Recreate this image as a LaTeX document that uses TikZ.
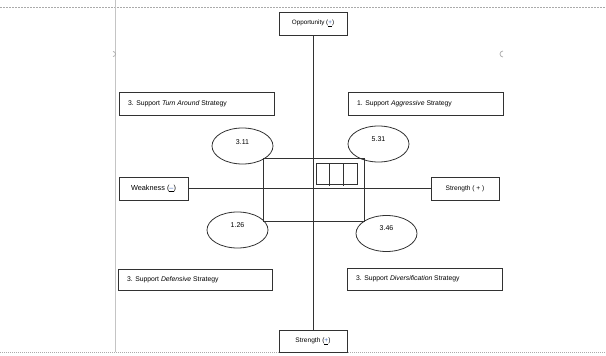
\documentclass[tikz,border=0pt]{standalone}
\usepackage{fontspec}
\setmainfont{Liberation Sans}
\usetikzlibrary{shapes.geometric}
\definecolor{ln}{RGB}{50,50,50}
\definecolor{pg}{RGB}{170,170,170}
\definecolor{sg}{RGB}{70,110,190}
\newcommand{\sgn}[1]{\underline{\textcolor{sg}{#1}}}
\begin{document}
\begin{tikzpicture}[x=1pt,y=-1pt,
  box/.style={draw=ln,line width=0.8pt,rectangle,inner sep=0pt},
  lbl/.style={font=\fontsize{6.8}{8}\selectfont,anchor=west},
  oval/.style={draw=ln,line width=0.8pt,ellipse,inner sep=0pt,minimum width=61pt,minimum height=36pt},
  ovtxt/.style={font=\fontsize{7}{8}\selectfont},
  conn/.style={draw=ln,line width=0.8pt}]
\useasboundingbox (0,0) rectangle (606,356);
% page decorations
\draw[pg,line width=0.6pt,dash pattern=on 2pt off 1pt] (0,7) -- (606,7);
\draw[pg,line width=1.4pt,dash pattern=on 1pt off 1pt] (0,352.5) -- (606,352.5);
\draw[pg!70,line width=0.6pt] (115,0) -- (115,352);
\draw[pg,line width=0.7pt] (113,56.5) arc (90:-90:2.5);
\draw[pg,line width=0.7pt] (503,57) arc (90:270:3);
% axis end boxes
\node[box,minimum width=68pt,minimum height=23pt,font=\fontsize{6.3}{7}\selectfont] (opp) at (313,23.5) {Opportunity (\sgn{+})};
\node[box,minimum width=68pt,minimum height=22pt,font=\fontsize{6.6}{7}\selectfont] (sbot) at (313,341) {Strength (\sgn{+})};
\node[box,minimum width=69pt,minimum height=23pt,font=\fontsize{7.3}{8}\selectfont] (weak) at (153.5,188.5) {Weakness (\sgn{--})};
\node[box,minimum width=68pt,minimum height=23pt,font=\fontsize{6.6}{8}\selectfont] (sright) at (465,188.5) {Strength ( + )};
% axes
\draw[conn] (opp.south) -- (sbot.north);
\draw[conn] (weak.east) -- (sright.west);
% strategy boxes
\node[box,minimum width=155pt,minimum height=23pt] (tl) at (196.5,103.5) {};
\node[lbl] at ([xshift=6pt]tl.west) {3. Support \textit{Turn Around} Strategy};
\node[box,minimum width=155pt,minimum height=23pt] (tr) at (425.5,103.5) {};
\node[lbl] at ([xshift=6pt]tr.west) {1. Support \textit{Aggressive} Strategy};
\node[box,minimum width=154pt,minimum height=21pt] (bl) at (195,279.5) {};
\node[lbl] at ([xshift=6pt]bl.west) {3. Support \textit{Defensive} Strategy};
\node[box,minimum width=155pt,minimum height=22pt] (br) at (424.5,279) {};
\node[lbl] at ([xshift=6pt]br.west) {3. Support \textit{Diversification} Strategy};
% central rectangle
\node[box,minimum width=101pt,minimum height=63pt] (mid) at (313.5,189.5) {};
% small grid
\node[box,minimum width=41pt,minimum height=21pt] (grid) at (336.5,173.5) {};
\draw[conn] (329,163) -- (329,185.5);
\draw[conn] (343,163) -- (343,185.5);
\draw[conn] (316,184) -- (357,184);
% ovals
\node[oval,label={[ovtxt,yshift=4pt]center:3.11}] (e1) at (242.5,146) {};
\node[oval,label={[ovtxt,yshift=5pt]center:5.31}] (e2) at (378.5,144) {};
\node[oval,label={[ovtxt,yshift=5pt]center:1.26}] (e3) at (237.5,230) {};
\node[oval,label={[ovtxt,yshift=5pt]center:3.46}] (e4) at (386.5,233.5) {};
\end{tikzpicture}
\end{document}
